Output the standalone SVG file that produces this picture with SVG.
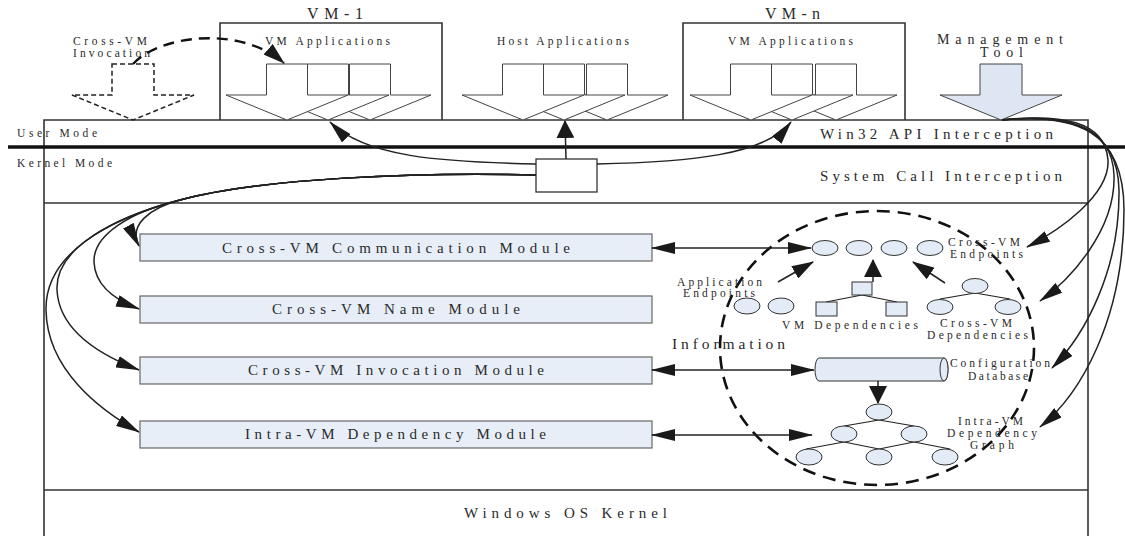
<svg xmlns="http://www.w3.org/2000/svg" width="1125" height="536" viewBox="0 0 1125 536">
<style>
text{font-family:"Liberation Serif","Times New Roman",serif;fill:#2a2a2a}
.s{font-size:11.5px}
.m{font-size:15px}
.frame{fill:none;stroke:#333;stroke-width:1.6}
.blk{fill:#fff;stroke:#444;stroke-width:1}
.mod{fill:#e8eef7;stroke:#666;stroke-width:1.2}
.el{fill:#e3ebf6;stroke:#333;stroke-width:1}
.ln{fill:none;stroke:#222;stroke-width:1.5}
.tl{fill:none;stroke:#222;stroke-width:1.2}
</style>
<defs>
<marker id="ah" viewBox="0 0 24 12" markerUnits="userSpaceOnUse" markerWidth="24" markerHeight="12" refX="23" refY="6" orient="auto-start-reverse"><path d="M0,0 L24,6 L0,12 z" fill="#1a1a1a"/></marker>
<marker id="aw" viewBox="0 0 18 18" markerUnits="userSpaceOnUse" markerWidth="18" markerHeight="18" refX="17" refY="9" orient="auto"><path d="M0,0 L18,9 L0,18 z" fill="#1a1a1a"/></marker>
<marker id="am" viewBox="0 0 22 14" markerUnits="userSpaceOnUse" markerWidth="22" markerHeight="14" refX="21" refY="7" orient="auto"><path d="M0,0 L22,7 L0,14 z" fill="#1a1a1a"/></marker>
</defs>
<rect width="1125" height="536" fill="#fff"/>

<g id="frame">
<path class="frame" d="M44,536 V120 H1088 V536"/>
<line class="frame" x1="44" y1="203" x2="1088" y2="203"/>
<line class="frame" x1="44" y1="490" x2="1088" y2="490"/>
<line x1="8" y1="147" x2="1125" y2="147" stroke="#111" stroke-width="3.5"/>
<text class="s" x="17" y="137" textLength="80" lengthAdjust="spacing">User Mode</text>
<text class="s" x="17" y="167" textLength="95" lengthAdjust="spacing">Kernel Mode</text>
<text class="m" x="820" y="139" textLength="233" lengthAdjust="spacing">Win32 API Interception</text>
<text class="m" x="820" y="181" textLength="242" lengthAdjust="spacing">System Call Interception</text>
<text class="m" x="464" y="518" textLength="203" lengthAdjust="spacing">Windows OS Kernel</text>
</g>

<g id="vm1">
<path class="frame" d="M220,120 V23 H442 V120"/>
<text style="font-size:16px" x="307" y="19" textLength="56" lengthAdjust="spacing">VM-1</text>
<text class="s" x="265" y="45" textLength="125" lengthAdjust="spacing">VM Applications</text>
<polygon class="blk" points="349.5,64 390.5,64 390.5,95 431,95 370,120 309,95 349.5,95"/>
<polygon class="blk" points="307.5,64 348.5,64 348.5,95 389,95 328,120 267,95 307.5,95"/>
<polygon class="blk" points="266.5,64 307.5,64 307.5,95 348,95 287,120 226,95 266.5,95"/>
</g>

<g id="host">
<text class="s" x="497" y="45" textLength="132" lengthAdjust="spacing">Host Applications</text>
<polygon class="blk" points="586.5,64 627.5,64 627.5,95 668,95 607,120 546,95 586.5,95"/>
<polygon class="blk" points="543.5,64 584.5,64 584.5,95 625,95 564,120 503,95 543.5,95"/>
<polygon class="blk" points="502.5,64 543.5,64 543.5,95 584,95 523,120 462,95 502.5,95"/>
</g>

<g id="vmn">
<path class="frame" d="M683,120 V23 H905 V120"/>
<text style="font-size:16px" x="765" y="19" textLength="55" lengthAdjust="spacing">VM-n</text>
<text class="s" x="728" y="45" textLength="125" lengthAdjust="spacing">VM Applications</text>
<polygon class="blk" points="815.5,64 856.5,64 856.5,95 897,95 836,120 775,95 815.5,95"/>
<polygon class="blk" points="771.5,64 812.5,64 812.5,95 853,95 792,120 731,95 771.5,95"/>
<polygon class="blk" points="730.5,64 771.5,64 771.5,95 812,95 751,120 690,95 730.5,95"/>
</g>

<g id="crossvm-invocation">
<text class="s" x="73" y="45" textLength="74" lengthAdjust="spacing">Cross-VM</text>
<text class="s" x="73" y="57" textLength="77" lengthAdjust="spacing">Invocation</text>
<polygon points="112,64 154,64 154,95 194,95 133,120 72,95 112,95" fill="none" stroke="#222" stroke-width="1.5" stroke-dasharray="5,3"/>
</g>

<g id="management">
<text style="font-size:14px" x="937" y="44" textLength="126" lengthAdjust="spacing">Management</text>
<text style="font-size:14px" x="980" y="57" textLength="43" lengthAdjust="spacing">Tool</text>
<polygon points="980,64 1022,64 1022,95 1062,95 1001,120 940,95 980,95" fill="#dde6f2" stroke="#444" stroke-width="1"/>
</g>

<g id="dispatcher"><rect x="536" y="159" width="61" height="33" fill="#fff" stroke="#333" stroke-width="1.3"/></g>

<g id="modules">
<g id="comm-module"><rect class="mod" x="140" y="234" width="512" height="27"/><text class="m" x="222" y="253" textLength="348" lengthAdjust="spacing">Cross-VM Communication Module</text></g>
<g id="name-module"><rect class="mod" x="140" y="296" width="512" height="27"/><text class="m" x="272" y="314" textLength="248" lengthAdjust="spacing">Cross-VM Name Module</text></g>
<g id="invocation-module"><rect class="mod" x="140" y="357" width="512" height="27"/><text class="m" x="248" y="375" textLength="296" lengthAdjust="spacing">Cross-VM Invocation Module</text></g>
<g id="intra-module"><rect class="mod" x="140" y="421" width="512" height="27"/><text class="m" x="245" y="439" textLength="301" lengthAdjust="spacing">Intra-VM Dependency Module</text></g>
</g>

<g id="information">
<ellipse cx="877" cy="348" rx="157" ry="137" fill="none" stroke="#111" stroke-width="2.6" stroke-dasharray="13,8"/>
<text style="font-size:15.5px" x="672" y="349" textLength="113" lengthAdjust="spacing">Information</text>
</g>

<g id="endpoints">
<ellipse class="el" cx="825" cy="248" rx="13" ry="7.5"/>
<ellipse class="el" cx="859" cy="248" rx="13" ry="7.5"/>
<ellipse class="el" cx="894" cy="248" rx="13" ry="7.5"/>
<ellipse class="el" cx="930" cy="248" rx="13" ry="7.5"/>
<text class="s" x="948" y="246" textLength="72" lengthAdjust="spacing">Cross-VM</text>
<text class="s" x="950" y="258" textLength="73" lengthAdjust="spacing">Endpoints</text>
</g>

<g id="app-endpoints">
<ellipse class="el" cx="747" cy="306" rx="13" ry="8"/>
<ellipse class="el" cx="781" cy="306" rx="13" ry="8"/>
<text class="s" x="677" y="286" textLength="85" lengthAdjust="spacing">Application</text>
<text class="s" x="683" y="297" textLength="72" lengthAdjust="spacing">Endpoints</text>
</g>

<g id="vm-dependencies">
<line class="tl" x1="862" y1="295" x2="826" y2="302"/>
<line class="tl" x1="862" y1="295" x2="897" y2="302"/>
<rect class="el" x="852" y="282" width="20" height="13"/>
<rect class="el" x="816" y="302" width="21" height="14"/>
<rect class="el" x="886" y="302" width="21" height="14"/>
<text class="s" x="782" y="329" textLength="136" lengthAdjust="spacing">VM Dependencies</text>
</g>

<g id="crossvm-dependencies">
<line class="tl" x1="975" y1="293" x2="940" y2="299"/>
<line class="tl" x1="975" y1="293" x2="1010" y2="299"/>
<ellipse class="el" cx="975" cy="286" rx="13" ry="7.5"/>
<ellipse class="el" cx="940" cy="307" rx="13" ry="7.5"/>
<ellipse class="el" cx="1008" cy="307" rx="13" ry="7.5"/>
<text class="s" x="940" y="327" textLength="72" lengthAdjust="spacing">Cross-VM</text>
<text class="s" x="927" y="339" textLength="101" lengthAdjust="spacing">Dependencies</text>
</g>

<g id="config-db">
<path class="el" d="M819,358 L944,358 A4,11.5 0 0 1 944,381 L819,381 A4,11.5 0 0 1 819,358 Z"/>
<ellipse class="el" cx="944" cy="369.5" rx="4" ry="11.5"/>
<text class="s" x="950" y="367" textLength="100" lengthAdjust="spacing">Configuration</text>
<text class="s" x="968" y="380" textLength="60" lengthAdjust="spacing">Database</text>
</g>

<g id="dependency-graph">
<line class="tl" x1="879" y1="420" x2="844" y2="426"/>
<line class="tl" x1="879" y1="420" x2="914" y2="426"/>
<line class="tl" x1="844" y1="442" x2="806" y2="449"/>
<line class="tl" x1="844" y1="442" x2="879" y2="449"/>
<line class="tl" x1="914" y1="442" x2="879" y2="449"/>
<line class="tl" x1="914" y1="442" x2="950" y2="449"/>
<ellipse class="el" cx="879" cy="412" rx="13" ry="8"/>
<ellipse class="el" cx="844" cy="434" rx="13" ry="8"/>
<ellipse class="el" cx="914" cy="434" rx="13" ry="8"/>
<ellipse class="el" cx="809" cy="457" rx="13" ry="8"/>
<ellipse class="el" cx="879" cy="457" rx="13" ry="8"/>
<ellipse class="el" cx="945" cy="457" rx="13" ry="8"/>
<text class="s" x="958" y="425" textLength="65" lengthAdjust="spacing">Intra-VM</text>
<text class="s" x="947" y="437" textLength="90" lengthAdjust="spacing">Dependency</text>
<text class="s" x="970" y="449" textLength="44" lengthAdjust="spacing">Graph</text>
</g>

<g id="connectors">
<path d="M133,64 C160,35 240,25 284,63" fill="none" stroke="#111" stroke-width="2.4" stroke-dasharray="11,7" marker-end="url(#am)"/>
<path class="ln" d="M566,159 L565,121" marker-end="url(#aw)"/>
<path class="ln" d="M536,164 C440,162 365,157 330,122" marker-end="url(#ah)"/>
<path class="ln" d="M597,164 C690,162 765,155 791,122" marker-end="url(#ah)"/>
<path class="ln" d="M536,175 C420,172 260,178 180,200 C150,208 128,225 139,246" marker-end="url(#ah)"/>
<path class="ln" d="M536,175 C420,172 260,178 180,200 C130,212 93,235 94,262 C95,285 115,300 139,309" marker-end="url(#ah)"/>
<path class="ln" d="M536,175 C420,172 260,178 180,200 C110,218 55,250 57,290 C59,330 100,355 139,370" marker-end="url(#ah)"/>
<path class="ln" d="M536,175 C420,172 260,178 180,200 C105,220 45,255 46,310 C47,370 100,410 139,432" marker-end="url(#ah)"/>
<path class="ln" d="M1002,120 C1060,114 1105,120 1108,160 C1110,195 1060,230 1027,247" marker-end="url(#ah)"/>
<path class="ln" d="M1002,120 C1065,113 1112,125 1114,175 C1116,230 1070,280 1040,301" marker-end="url(#ah)"/>
<path class="ln" d="M1002,120 C1070,113 1118,128 1119,190 C1120,270 1085,335 1052,368" marker-end="url(#ah)"/>
<path class="ln" d="M1002,120 C1075,113 1124,130 1124,210 C1124,320 1080,395 1040,427" marker-end="url(#ah)"/>
<path class="ln" d="M652,248 L811,248" marker-start="url(#ah)" marker-end="url(#ah)"/>
<path class="ln" d="M652,370 L814,370" marker-start="url(#ah)" marker-end="url(#ah)"/>
<path class="ln" d="M652,435 L812,435" marker-start="url(#ah)" marker-end="url(#ah)"/>
<path class="ln" d="M778,282 L813,262" marker-end="url(#am)"/>
<path class="ln" d="M873,282 L873,260" marker-end="url(#aw)"/>
<path class="ln" d="M945,283 L913,262" marker-end="url(#am)"/>
<path class="ln" d="M878,381 L878,403" marker-end="url(#aw)"/>
</g>
</svg>
